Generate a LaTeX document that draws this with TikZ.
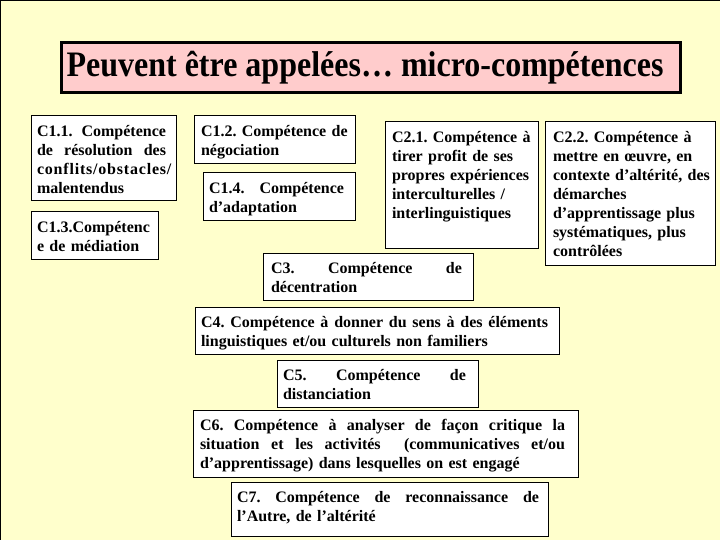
\documentclass[tikz,border=0pt]{standalone}
\usepackage{fontspec}
\setmainfont{Liberation Serif}
\setlength{\parindent}{0pt}
\frenchspacing
\definecolor{bgyellow}{HTML}{FFFFCC}
\definecolor{titlepink}{HTML}{FFCCCC}
\newcommand{\jl}[2]{\leavevmode\hbox to #1{\strut #2}}
\newcommand{\rl}[1]{\strut #1}
\begin{document}
\begin{tikzpicture}[x=1pt,y=-1pt,
  box/.style={draw=black, line width=1pt, fill=white, anchor=north west, inner sep=0pt, outer sep=0pt},
  txt/.style={anchor=north west, inner sep=0pt, outer sep=0pt, align=left, font=\fontsize{16}{19}\selectfont\bfseries\frenchspacing},
  titlebox/.style={draw=black, line width=3pt, fill=titlepink, anchor=north west, inner sep=0pt},
  titletxt/.style={anchor=base, inner sep=0pt, font=\fontsize{32}{36}\selectfont\bfseries}
]
\fill[bgyellow] (0,0) rectangle (720,540);
\useasboundingbox (0,0) rectangle (720,540);
\draw[line width=1.5pt] (0,540) -- (0,0) -- (720,0);

% title
\node[titlebox, minimum width=619pt, minimum height=50pt] (title) at (60,41) {};
\node[titletxt] (titletext) at (365,77) {\scalebox{1}[1.12]{Peuvent être appelées… micro-compétences}};

% boxes
\node[box, minimum width=145pt, minimum height=85pt] (b11) at (31,116) {};
\node[box, minimum width=127pt, minimum height=47pt] (b13) at (31,212) {};
\node[box, minimum width=161pt, minimum height=48pt] (b12) at (194,116) {};
\node[box, minimum width=152pt, minimum height=48pt] (b14) at (203,173) {};
\node[box, minimum width=153pt, minimum height=126pt] (b21) at (385,122) {};
\node[box, minimum width=170pt, minimum height=143pt] (b22) at (545,122) {};
\node[box, minimum width=210pt, minimum height=47pt] (b3) at (263,253) {};
\node[box, minimum width=364pt, minimum height=47pt] (b4) at (195,307) {};
\node[box, minimum width=201pt, minimum height=47pt] (b5) at (277,360) {};
\node[box, minimum width=385pt, minimum height=67pt] (b6) at (193,410) {};
\node[box, minimum width=317pt, minimum height=54pt] (b7) at (231,482) {};

% texts
\node[txt, text width=129pt] (t11) at ([xshift=6pt,yshift=-7.5pt]b11.north west)
  {\jl{129pt}{C1.1.\hfil Compétence}\\ \jl{129pt}{de\hfil résolution\hfil des}\\ \jl{129pt}{{\addfontfeature{LetterSpace=5}conflits/obstacles/}\hfil}\\ \rl{malentendus}};
\node[txt, text width=118pt] (t13) at ([xshift=6pt,yshift=-7.5pt]b13.north west)
  {\rl{C1.3.Compétenc}\\ \rl{e de médiation}};
\node[txt, text width=150pt] (t12) at ([xshift=7pt,yshift=-7.5pt]b12.north west)
  {\rl{C1.2. Compétence de}\\ \rl{négociation}};
\node[txt, text width=135pt] (t14) at ([xshift=6pt,yshift=-7.5pt]b14.north west)
  {\jl{135pt}{C1.4.\hfil Compétence}\\ \rl{d’adaptation}};
\node[txt, text width=142pt] (t21) at ([xshift=7pt,yshift=-7.5pt]b21.north west)
  {\rl{C2.1. Compétence à}\\ \rl{tirer profit de ses}\\ \rl{propres expériences}\\ \rl{interculturelles /}\\ \rl{interlinguistiques}};
\node[txt, text width=158pt] (t22) at ([xshift=8pt,yshift=-7.5pt]b22.north west)
  {\rl{C2.2. Compétence à}\\ \rl{mettre en œuvre, en}\\ \rl{contexte d’altérité, des}\\ \rl{démarches}\\ \rl{d’apprentissage plus}\\ \rl{systématiques, plus}\\ \rl{contrôlées}};
\node[txt, text width=191pt] (t3) at ([xshift=8pt,yshift=-7.5pt]b3.north west)
  {\jl{191pt}{C3.\hfil Compétence\hfil de}\\ \rl{décentration}};
\node[txt, text width=347pt] (t4) at ([xshift=6pt,yshift=-7.5pt]b4.north west)
  {\jl{347pt}{C4.\hfil Compétence\hfil à\hfil donner\hfil du\hfil sens\hfil à\hfil des\hfil éléments}\\ \rl{linguistiques et/ou culturels non familiers}};
\node[txt, text width=183pt] (t5) at ([xshift=6pt,yshift=-7.5pt]b5.north west)
  {\jl{183pt}{C5.\hfil Compétence\hfil de}\\ \rl{distanciation}};
\node[txt, text width=365pt] (t6) at ([xshift=7pt,yshift=-7.5pt]b6.north west)
  {\jl{365pt}{C6.\hfil Compétence\hfil à\hfil analyser\hfil de\hfil façon\hfil critique\hfil la}\\ \jl{365pt}{situation\hfil et\hfil les\hfil activités\hfil\hfil (communicatives\hfil et/ou}\\ \rl{d’apprentissage) dans lesquelles on est engagé}};
\node[txt, text width=302pt] (t7) at ([xshift=6pt,yshift=-7.5pt]b7.north west)
  {\jl{302pt}{C7.\hfil Compétence\hfil de\hfil reconnaissance\hfil de}\\ \rl{l’Autre, de l’altérité}};
\end{tikzpicture}
\end{document}
